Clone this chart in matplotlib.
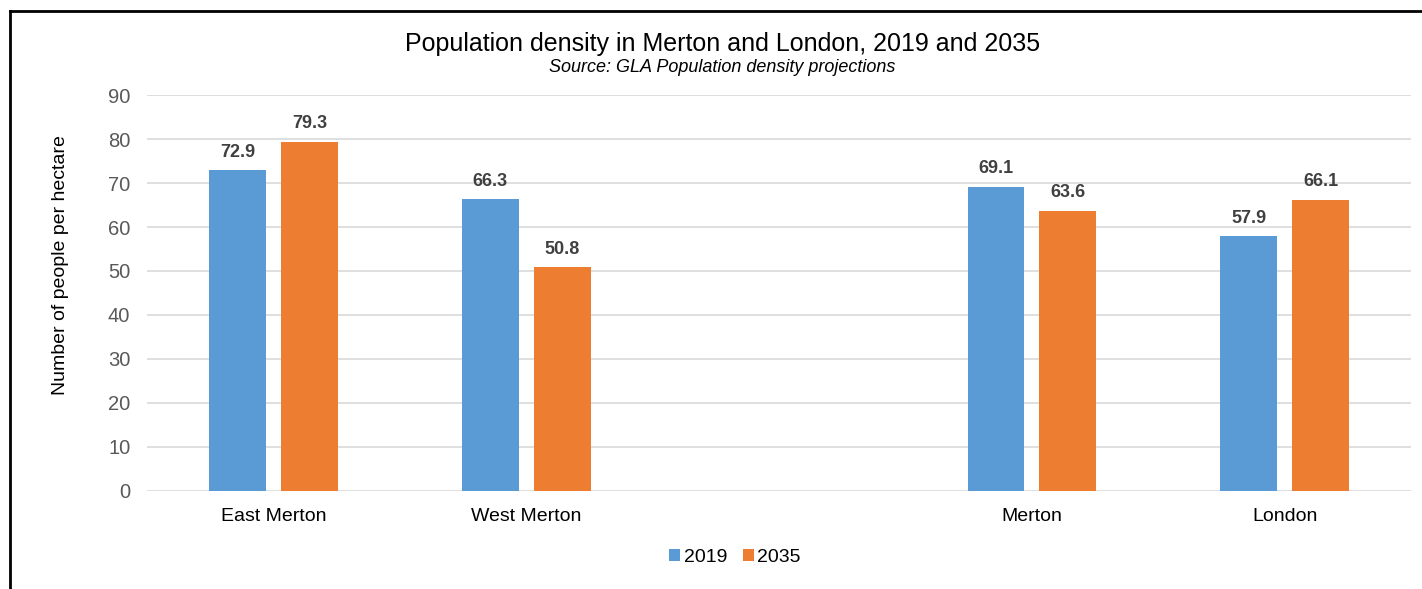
import numpy as np
import matplotlib.pyplot as plt
from matplotlib.lines import Line2D

plt.rcParams['font.family'] = ['Liberation Sans', 'DejaVu Sans']

categories = ["East Merton", "West Merton", "", "Merton", "London"]
values_2019 = [72.9, 66.3, None, 69.1, 57.9]
values_2035 = [79.3, 50.8, None, 63.6, 66.1]
series_names = ["2019", "2035"]
yticks = [0, 10, 20, 30, 40, 50, 60, 70, 80, 90]

blue = "#5b9bd5"
orange = "#ed7d31"

fig = plt.figure(figsize=(14.22, 5.89), dpi=100)
ax = fig.add_axes([0.1034, 0.1664, 0.8889, 0.6723])

x = np.arange(len(categories))
w = 0.225
off = 0.142
for vals, dx, col, name in [(values_2019, -off, blue, series_names[0]),
                            (values_2035, off, orange, series_names[1])]:
    xs = [xi + dx for xi, v in zip(x, vals) if v is not None]
    vs = [v for v in vals if v is not None]
    bars = ax.bar(xs, vs, width=w, color=col, label=name, zorder=3)
    for b, v in zip(bars, vs):
        ax.text(b.get_x() + b.get_width() / 2, v + 2.2, f"{v:.1f}",
                ha="center", va="bottom", fontsize=13, fontweight="bold",
                color="#404040")

ax.set_xlim(-0.5, len(categories) - 0.5)
ax.set_ylim(0, 90)
ax.set_yticks(yticks)
ax.set_xticks(x)
ax.set_xticklabels(categories)
ax.grid(axis="y", color="#d9d9d9", linewidth=1.2, zorder=0)
for s in ax.spines.values():
    s.set_visible(False)
ax.tick_params(axis="both", length=0)
ax.tick_params(axis="y", labelsize=14.5, labelcolor="#595959", pad=12)
ax.tick_params(axis="x", labelsize=14, labelcolor="#000000", pad=12)
ax.set_ylabel("Number of people per hectare", fontsize=14)
ax.yaxis.set_label_coords(-0.0615, 0.571)

fig.text(0.508, 0.926, "Population density in Merton and London, 2019 and 2035",
         ha="center", va="center", fontsize=18)
fig.text(0.508, 0.886, "Source: GLA Population density projections",
         ha="center", va="center", fontsize=13, style="italic")

ax.legend(loc="center", bbox_to_anchor=(0.517, 0.054), bbox_transform=fig.transFigure,
          ncol=2, frameon=False, fontsize=14, handlelength=0.55, handleheight=0.55,
          handletextpad=0.2, columnspacing=0.8)

fig.add_artist(Line2D([0.007, 0.007], [0, 0.982], color="black", linewidth=2,
                      transform=fig.transFigure))
fig.add_artist(Line2D([0.007, 1.0], [0.982, 0.982], color="black", linewidth=2,
                      transform=fig.transFigure))

fig.savefig("out.png", dpi=100)
